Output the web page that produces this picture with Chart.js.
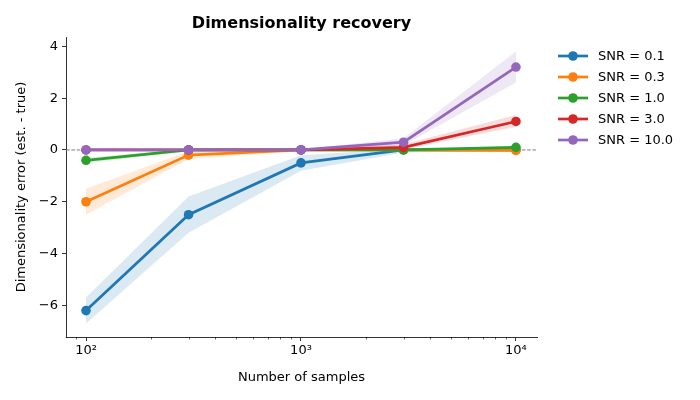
<!DOCTYPE html>
<html>
<head>
<meta charset="utf-8">
<script src="https://cdn.jsdelivr.net/npm/chart.js@4.4.0/dist/chart.umd.min.js"></script>
<style>
  body { margin: 0; background: #fff; }
</style>
</head>
<body>
<canvas id="myChart" width="700" height="400"></canvas>
<script>
'use strict';

// data
const samples = [100, 300, 1000, 3000, 10000];
const snrLabels = ['SNR = 0.1', 'SNR = 0.3', 'SNR = 1.0', 'SNR = 3.0', 'SNR = 10.0'];
const colors = ['#1f77b4', '#ff7f0e', '#2ca02c', '#d62728', '#9467bd'];

const snr01 = [-6.2, -2.5, -0.5, 0.0, 0.0];
const snr01Lo = [-6.7, -3.2, -0.8, -0.1, -0.05];
const snr01Hi = [-5.7, -1.8, -0.2, 0.05, 0.05];

const snr03 = [-2.0, -0.2, 0.0, 0.0, -0.02];
const snr03Lo = [-2.5, -0.35, -0.05, -0.05, -0.07];
const snr03Hi = [-1.5, -0.05, 0.03, 0.03, 0.03];

const snr1 = [-0.4, 0.0, 0.0, 0.0, 0.1];
const snr1Lo = [-0.5, -0.05, -0.03, -0.03, 0.03];
const snr1Hi = [-0.3, 0.03, 0.03, 0.03, 0.16];

const snr3 = [0.0, 0.0, 0.0, 0.1, 1.1];
const snr3Lo = [-0.03, -0.03, -0.03, 0.02, 0.9];
const snr3Hi = [0.03, 0.03, 0.03, 0.22, 1.35];

const snr10 = [0.0, 0.0, 0.0, 0.3, 3.2];
const snr10Lo = [-0.03, -0.03, -0.03, 0.18, 2.6];
const snr10Hi = [0.03, 0.03, 0.03, 0.45, 3.8];

const yTicks = [-6, -4, -2, 0, 2, 4];
const xTicks = [100, 1000, 10000];
const xTickLabels = ['10\u00b2', '10\u00b3', '10\u2074'];

const means = [snr01, snr03, snr1, snr3, snr10];
const lows = [snr01Lo, snr03Lo, snr1Lo, snr3Lo, snr10Lo];
const highs = [snr01Hi, snr03Hi, snr1Hi, snr3Hi, snr10Hi];

function toPoints(arr) {
    return arr.map((v, i) => ({ x: samples[i], y: v }));
}

function hexA(hex, a) {
    const r = parseInt(hex.slice(1, 3), 16);
    const g = parseInt(hex.slice(3, 5), 16);
    const b = parseInt(hex.slice(5, 7), 16);
    return 'rgba(' + r + ',' + g + ',' + b + ',' + a + ')';
}

const datasets = [];
for (let i = 0; i < means.length; i++) {
    let k = datasets.length;
    datasets.push({
        data: toPoints(lows[i]), borderWidth: 0, pointRadius: 0,
        fill: false, order: -k
    });
    datasets.push({
        data: toPoints(highs[i]), borderWidth: 0, pointRadius: 0,
        fill: '-1', backgroundColor: hexA(colors[i], 0.16), order: -(k + 1)
    });
    datasets.push({
        label: snrLabels[i], data: toPoints(means[i]),
        borderColor: colors[i], backgroundColor: colors[i],
        borderWidth: 2.7, pointRadius: 4.8, pointHoverRadius: 4.8,
        pointBorderWidth: 0, fill: false, order: -(k + 2)
    });
}

const font = "'DejaVu Sans', sans-serif";

// zero line, minor ticks, title and legend
const extras = {
    id: 'extras',
    beforeDatasetsDraw(chart) {
        const ctx = chart.ctx;
        const a = chart.chartArea;
        const y0 = chart.scales.y.getPixelForValue(0);
        ctx.save();
        ctx.strokeStyle = '#808080';
        ctx.lineWidth = 1;
        ctx.setLineDash([3.7, 1.6]);
        ctx.beginPath();
        ctx.moveTo(a.left, y0);
        ctx.lineTo(a.right, y0);
        ctx.stroke();
        ctx.restore();
    },
    afterDraw(chart) {
        const ctx = chart.ctx;
        const a = chart.chartArea;
        const xs = chart.scales.x;
        ctx.save();
        // minor ticks on log axis
        ctx.strokeStyle = '#000';
        ctx.lineWidth = 0.6;
        for (let d = 10; d <= 10000; d *= 10) {
            for (let m = 2; m <= 9; m++) {
                const v = d * m;
                if (v < xs.min || v > xs.max) continue;
                const px = Math.round(xs.getPixelForValue(v)) + 0.5;
                ctx.beginPath();
                ctx.moveTo(px, a.bottom);
                ctx.lineTo(px, a.bottom + 2.5);
                ctx.stroke();
            }
        }
        // title
        ctx.fillStyle = '#000';
        ctx.font = 'bold 16px ' + font;
        ctx.textAlign = 'center';
        ctx.textBaseline = 'middle';
        ctx.fillText('Dimensionality recovery', (a.left + a.right) / 2, 24);
        // legend
        ctx.font = '13px ' + font;
        ctx.textAlign = 'left';
        for (let i = 0; i < snrLabels.length; i++) {
            const y = 56 + i * 21;
            ctx.strokeStyle = colors[i];
            ctx.lineWidth = 2.7;
            ctx.beginPath();
            ctx.moveTo(558, y);
            ctx.lineTo(588, y);
            ctx.stroke();
            ctx.fillStyle = colors[i];
            ctx.beginPath();
            ctx.arc(573, y, 4.8, 0, Math.PI * 2);
            ctx.fill();
            ctx.fillStyle = '#000';
            ctx.fillText(snrLabels[i], 598, y + 1);
        }
        ctx.restore();
    }
};

const config = {
    type: 'line',
    data: { datasets: datasets },
    options: {
        responsive: false,
        animation: false,
        devicePixelRatio: 1,
        layout: { padding: { top: 37, right: 163, left: 14, bottom: 15 } },
        plugins: {
            legend: { display: false },
            tooltip: { enabled: false },
            filler: { propagate: false }
        },
        scales: {
            x: {
                type: 'logarithmic',
                min: 80.7,
                max: 12530,
                afterBuildTicks(scale) {
                    scale.ticks = xTicks.map(v => ({ value: v }));
                },
                afterFit(scale) { scale.height = 48; },
                ticks: {
                    color: '#000',
                    font: { family: font, size: 13 },
                    padding: 2,
                    maxRotation: 0,
                    autoSkip: false,
                    callback: (v) => xTickLabels[xTicks.indexOf(v)] || ''
                },
                grid: { drawOnChartArea: false, drawTicks: true, tickLength: 4, color: '#000', tickWidth: 0.8 },
                border: { display: true, color: '#000', width: 0.8 },
                title: {
                    display: true, text: 'Number of samples', color: '#000',
                    font: { family: font, size: 13 }, padding: { top: 6, bottom: 0 }
                }
            },
            y: {
                min: -7.22,
                max: 4.36,
                afterBuildTicks(scale) {
                    scale.ticks = yTicks.map(v => ({ value: v }));
                },
                afterFit(scale) { scale.width = 52; },
                ticks: {
                    color: '#000',
                    font: { family: font, size: 13 },
                    padding: 4,
                    callback: (v) => (v < 0 ? '\u2212' + Math.abs(v) : String(v))
                },
                grid: { drawOnChartArea: false, drawTicks: true, tickLength: 4, color: '#000', tickWidth: 0.8 },
                border: { display: true, color: '#000', width: 0.8 },
                title: {
                    display: true, text: 'Dimensionality error (est. - true)', color: '#000',
                    font: { family: font, size: 13 }, padding: { top: 0, bottom: 4 }
                }
            }
        }
    },
    plugins: [extras]
};

const myChart = new Chart(document.getElementById('myChart'), config);
</script>
</body>
</html>
